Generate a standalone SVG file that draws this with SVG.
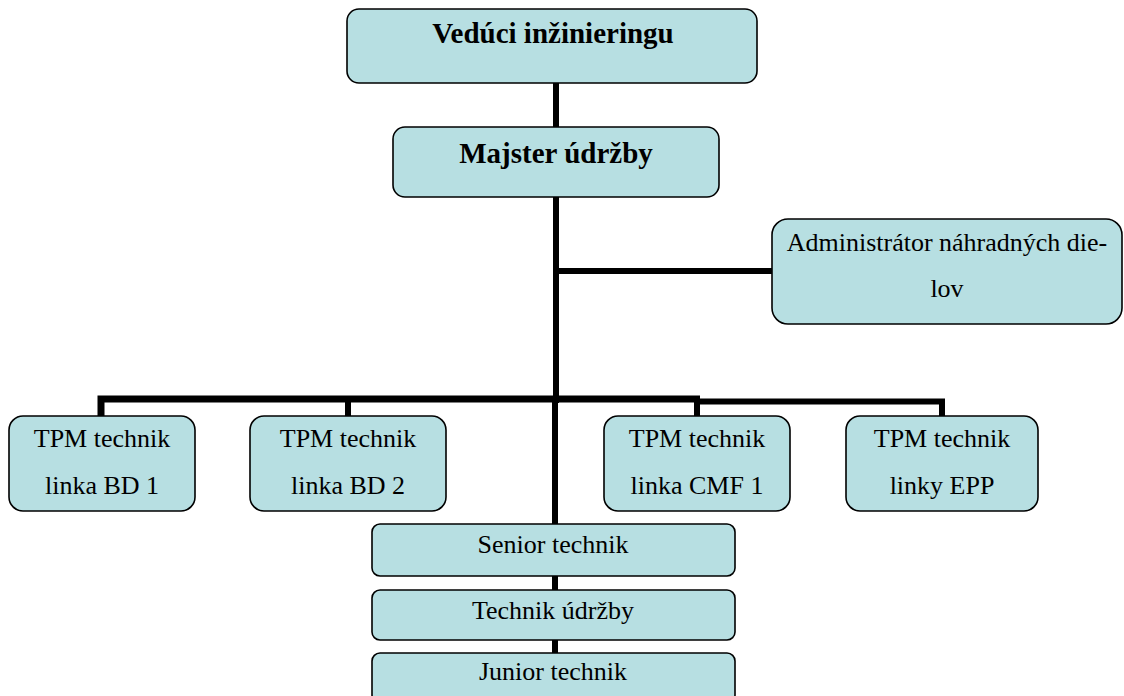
<svg xmlns="http://www.w3.org/2000/svg" width="1124" height="696" viewBox="0 0 1124 696">
<style>
.box{fill:#B7DFE2;stroke:#000;stroke-width:1.6}
.t{font-family:"Liberation Serif","Times New Roman",serif;font-size:26px;fill:#000;text-anchor:middle}
.b{font-weight:bold;font-size:29px}
.ln{stroke:#000;fill:none;stroke-linecap:butt}
</style>
<rect width="1124" height="696" fill="#fff"/>
<g id="connectors">
<line class="ln" x1="556" y1="83" x2="556" y2="127" stroke-width="6"/>
<line class="ln" x1="556" y1="197" x2="556" y2="403" stroke-width="6"/>
<line class="ln" x1="556" y1="271" x2="772" y2="271" stroke-width="6"/>
<polyline class="ln" points="101,416 101,399 700,399" stroke-width="7"/>
<line class="ln" x1="348" y1="399" x2="348" y2="416" stroke-width="6"/>
<polyline class="ln" points="697,416 697,401.5 942,401.5 942,416" stroke-width="6"/>
<line class="ln" x1="555" y1="399" x2="555" y2="653" stroke-width="6"/>
</g>
<g id="n-veduci">
<rect class="box" x="347" y="9" width="410" height="74" rx="12"/>
<text class="t b" x="553" y="43">Vedúci inžinieringu</text>
</g>
<g id="n-majster">
<rect class="box" x="393" y="127" width="326" height="70" rx="12"/>
<text class="t b" x="556" y="163">Majster údržby</text>
</g>
<g id="n-admin">
<rect class="box" x="772" y="219" width="350" height="105" rx="16"/>
<text class="t" x="947" y="251">Administrátor náhradných die-</text>
<text class="t" x="947" y="297">lov</text>
</g>
<g id="n-bd1">
<rect class="box" x="9" y="416" width="186" height="95" rx="14"/>
<text class="t" x="102" y="447">TPM technik</text>
<text class="t" x="102" y="494">linka BD 1</text>
</g>
<g id="n-bd2">
<rect class="box" x="250" y="416" width="196" height="95" rx="14"/>
<text class="t" x="348" y="447">TPM technik</text>
<text class="t" x="348" y="494">linka BD 2</text>
</g>
<g id="n-cmf1">
<rect class="box" x="604" y="416" width="186" height="95" rx="14"/>
<text class="t" x="697" y="447">TPM technik</text>
<text class="t" x="697" y="494">linka CMF 1</text>
</g>
<g id="n-epp">
<rect class="box" x="846" y="416" width="192" height="95" rx="14"/>
<text class="t" x="942" y="447">TPM technik</text>
<text class="t" x="942" y="494">linky EPP</text>
</g>
<g id="n-senior">
<rect class="box" x="372" y="524" width="363" height="52" rx="8"/>
<text class="t" x="553" y="553">Senior technik</text>
</g>
<g id="n-technik">
<rect class="box" x="372" y="590" width="363" height="50" rx="8"/>
<text class="t" x="553" y="619">Technik údržby</text>
</g>
<g id="n-junior">
<rect class="box" x="372" y="653" width="363" height="50" rx="8"/>
<text class="t" x="553" y="680">Junior technik</text>
</g>
</svg>
